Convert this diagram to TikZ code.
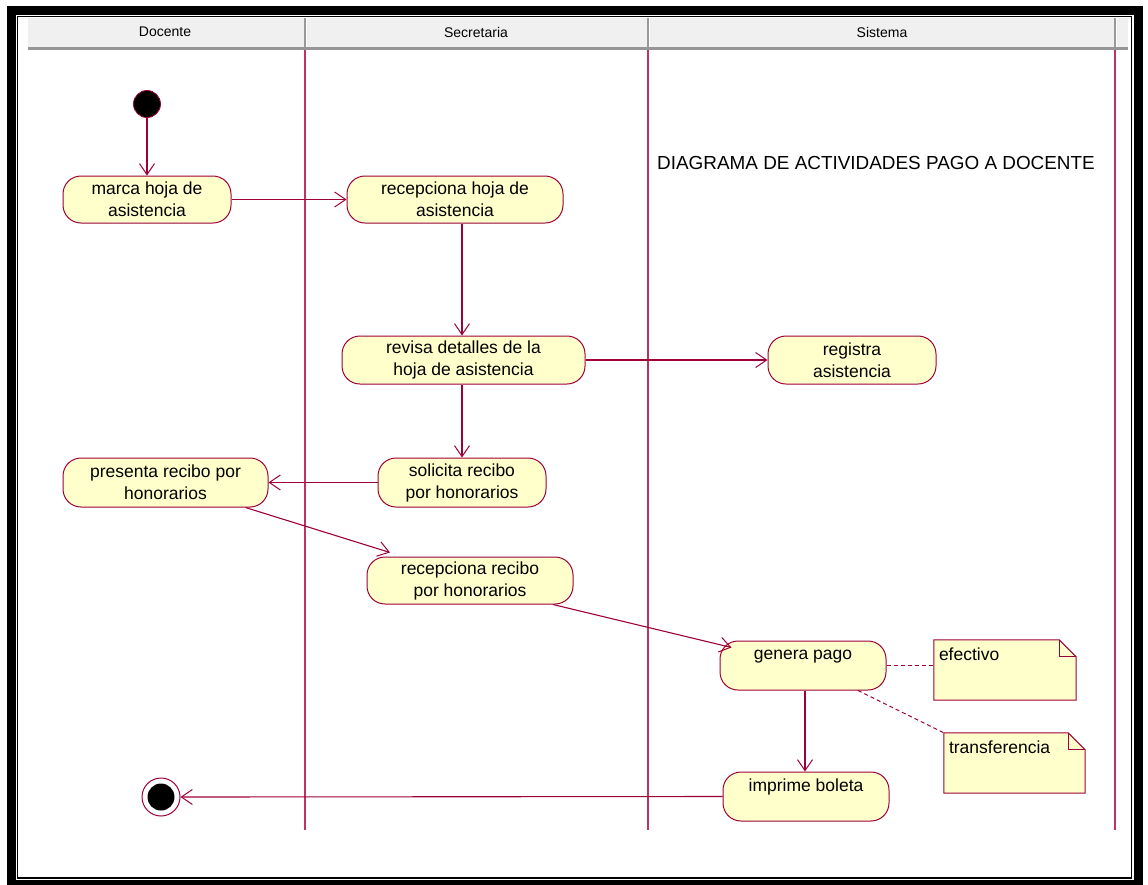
\documentclass[tikz,border=0pt]{standalone}
\usepackage{fontspec}
\setmainfont{Liberation Sans}
\usetikzlibrary{arrows.meta,calc}
\definecolor{edgecol}{RGB}{158,0,57}
\definecolor{lanecol}{RGB}{190,50,100}
\definecolor{actfill}{RGB}{255,255,204}
\definecolor{hdrfill}{RGB}{240,240,240}
\definecolor{hdrline}{RGB}{150,150,150}

\begin{document}
\begin{tikzpicture}[x=1pt,y=-1pt,
  activity/.style={draw=edgecol, line width=1pt, fill=actfill, rounded corners=18pt,
    align=center, inner sep=0pt, font=\fontsize{17.5}{22}\selectfont},
  flow/.style={draw=edgecol, line width=1.1pt,
    -{Straight Barb[length=11pt,width=15pt,line width=1pt]}},
  anchorline/.style={draw=edgecol, line width=1pt, dash pattern=on 4pt off 3pt},
  notebox/.style={draw=none, fill=none, inner sep=0pt},
  notetext/.style={anchor=north west, inner sep=0pt, font=\fontsize{17.5}{22}\selectfont},
  lanelabel/.style={font=\fontsize{14}{16}\selectfont, inner sep=0pt},
  lane/.style={draw=lanecol, line width=1.3pt}
]
\useasboundingbox (0,0) rectangle (1148,884);
\begin{scope}
\clip (0,0) rectangle (1148,884);
\fill[white] (0,0) rectangle (1148,884);
% window frame
\draw[line width=9pt] (11.5,10.5) rectangle (1138,884.5);
\draw[line width=1.5pt] (17.5,16.5) rectangle (1131.5,878);
\end{scope}

% swimlane header
\fill[hdrfill] (28,18) rectangle (1128,47);
\draw[hdrline, line width=2.5pt] (28,48.5) -- (1128,48.5);
\foreach \lx in {305,648,1115}{
  \draw[gray!80, line width=1.5pt] (\lx,18) -- (\lx,47);
  \draw[white, line width=1pt] (\lx+1.5,18) -- (\lx+1.5,47);
}
\node[lanelabel] (hDoc) at (165,32) {Docente};
\node[lanelabel] (hSec) at (476,32) {Secretaria};
\node[lanelabel] (hSis) at (882,32) {Sistema};

% swimlane dividers
\draw[lane] (305,50) -- (305,830);
\draw[lane] (648,50) -- (648,830);
\draw[lane] (1115,50) -- (1115,830);

% title
\node[anchor=west, inner sep=0pt, font=\fontsize{18.9}{22}\selectfont] (title) at (657,163)
  {DIAGRAMA DE ACTIVIDADES PAGO A DOCENTE};

% start and end states
\node[circle, fill=black, draw=edgecol, line width=0.8pt, minimum size=27pt, inner sep=0pt] (start) at (147,104) {};
\node[circle, draw=edgecol, line width=1pt, minimum size=38pt, inner sep=0pt] (end) at (161,797) {};
\fill[black] (end.center) circle (13.5pt);

% activities
\node[activity, minimum width=168pt, minimum height=47pt] (marca) at (147,199.5) {marca hoja de\\asistencia};
\node[activity, minimum width=216pt, minimum height=47pt] (rechoja) at (455,199.5) {recepciona hoja de\\asistencia};
\node[activity, minimum width=243pt, minimum height=48pt] (revisa) at (463.5,360) {revisa detalles de la\\hoja de asistencia};
\node[activity, minimum width=168pt, minimum height=48pt] (registra) at (852,360) {registra\\asistencia};
\node[activity, minimum width=168pt, minimum height=49pt] (solicita) at (462,482.5) {solicita recibo\\por honorarios};
\node[activity, minimum width=205pt, minimum height=49pt] (presenta) at (165.5,482.5) {presenta recibo por\\honorarios};
\node[activity, minimum width=206pt, minimum height=47pt] (recrecibo) at (470,580.5) {recepciona recibo\\por honorarios};
\node[activity, minimum width=166pt, minimum height=49pt] (genera) at (803,665.5) {genera pago\\\mbox{}};
\node[activity, minimum width=166pt, minimum height=49pt] (imprime) at (806,796.5) {imprime boleta\\\mbox{}};

% notes
\node[notebox, minimum width=142pt, minimum height=60pt] (nefect) at (1005,670) {};
\node[notebox, minimum width=141pt, minimum height=60pt] (ntrans) at (1014.5,763) {};
\foreach \n in {nefect,ntrans}{
  \filldraw[fill=actfill, draw=edgecol, line width=1pt]
    (\n.north west) -- ($(\n.north east)+(-17,0)$) -- ($(\n.north east)+(0,17)$)
    -- (\n.south east) -- (\n.south west) -- cycle;
  \draw[edgecol, line width=1pt] ($(\n.north east)+(-17,0)$) |- ($(\n.north east)+(0,17)$);
}
\node[notetext] (tefect) at ($(nefect.north west)+(5,8)$) {efectivo};
\node[notetext] (ttrans) at ($(ntrans.north west)+(5,8)$) {transferencia};

% control flow
\draw[flow] (start) -- (marca.north);
\draw[flow] (marca.east) -- (rechoja.west);
\draw[flow] (rechoja.south -| solicita.north) -- (revisa.north -| solicita.north);
\draw[flow] (revisa.east) -- (registra.west);
\draw[flow] (revisa.south -| solicita.north) -- (solicita.north);
\draw[flow] (solicita.west) -- (presenta.east);
\draw[flow] ($(presenta.south)+(80,0)$) -- ($(recrecibo.north)+(-80,-4)$);
\draw[flow] ($(recrecibo.south)+(83,0)$) -- ($(genera.north west)+(12,7)$);
\draw[flow] (genera.south -| 805,0) -- (imprime.north -| 805,0);
\draw[flow] (imprime.west) -- (end.east);

% note anchors
\draw[anchorline] (genera.east) -- (genera.east -| nefect.west);
\draw[anchorline] ($(genera.south)+(55,0)$) -- (ntrans.north west);
\end{tikzpicture}
\end{document}
